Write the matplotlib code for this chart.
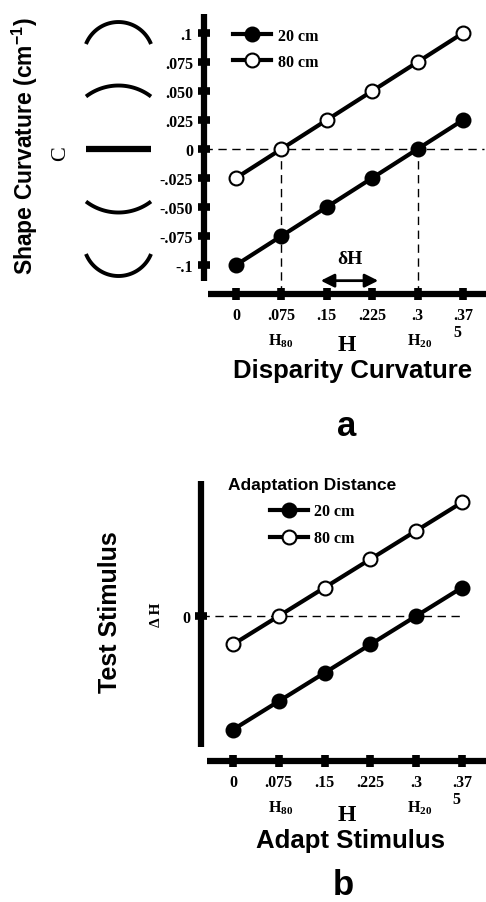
import matplotlib
matplotlib.use('Agg')
import matplotlib.pyplot as plt
import numpy as np
from matplotlib.lines import Line2D

plt.rcParams['mathtext.default'] = 'regular'

# ---------------- data ----------------
H_values = [0, 0.075, 0.15, 0.225, 0.3, 0.375]
x_tick_labels = ['0', '.075', '.15', '.225', '.3', '.37\n5']
c_20cm = [-0.1, -0.075, -0.05, -0.025, 0.0, 0.025]
c_80cm = [-0.025, 0.0, 0.025, 0.05, 0.075, 0.1]
y_ticks_a = [0.1, 0.075, 0.05, 0.025, 0, -0.025, -0.05, -0.075, -0.1]
y_tick_labels_a = ['.1', '.075', '.050', '.025', '0', '-.025', '-.050', '-.075', '-.1']
y_ticks_b = [0]
y_tick_labels_b = ['0']
shape_curvatures = [0.1, 0.05, 0.0, -0.05, -0.1]
H80 = 0.075
H20 = 0.3
dH_span = [0.14, 0.235]
series_labels = ['20 cm', '80 cm']

# ---------------- figure ----------------
W, HP = 486, 903
fig = plt.figure(figsize=(W / 100, HP / 100), dpi=100)

SERIF = 'Liberation Serif'
SANS = 'Liberation Sans'


def px_axes(l, t, r, b):
    return fig.add_axes([l / W, 1 - b / HP, (r - l) / W, (b - t) / HP])


def ftext(x, y, s, **kw):
    kw.setdefault('ha', 'center')
    kw.setdefault('va', 'center')
    return fig.text(x / W, 1 - y / HP, s, **kw)


def style_axes(ax, xlim, ylim, lbounds, bbounds, yticks, yticklabels):
    ax.set_xlim(*xlim)
    ax.set_ylim(*ylim)
    ax.patch.set_alpha(0)
    for s in ['top', 'right']:
        ax.spines[s].set_visible(False)
    for s in ['left', 'bottom']:
        ax.spines[s].set_linewidth(4.5)
        ax.spines[s].set_capstyle('butt')
    ax.spines['left'].set_bounds(*lbounds)
    ax.spines['bottom'].set_bounds(*bbounds)
    ax.set_xticks(H_values)
    ax.set_xticklabels(x_tick_labels, fontfamily=SERIF, fontweight='bold', fontsize=11.5)
    for lbl in ax.get_xticklabels():
        lbl.set_multialignment('left')
        lbl.set_linespacing(1.1)
    ax.set_yticks(yticks)
    ax.set_yticklabels(yticklabels, fontfamily=SERIF, fontweight='bold', fontsize=11.5)
    ax.tick_params(direction='inout', length=9, width=5.5, pad=3.5, color='black')
    ax.tick_params(axis='x', pad=5)


def draw_series(ax, lw=3.0):
    ax.plot(H_values, c_20cm, '-o', color='black', lw=lw, ms=10, mfc='black',
            mec='black', mew=1.5, label=series_labels[0], zorder=5)
    ax.plot(H_values, c_80cm, '-o', color='black', lw=lw, ms=10, mfc='white',
            mec='black', mew=1.5, label=series_labels[1], zorder=5)


# ---------------- panel a ----------------
axa = px_axes(204, 15, 486, 295)
style_axes(axa, (-0.0529, 0.413), (-0.125, 0.1164), (-0.1138, 0.1164),
           (-0.0463, 0.413), y_ticks_a, y_tick_labels_a)
axa.hlines(0, axa.get_xlim()[0], 0.41, colors='black', lw=1, linestyles=(0, (6, 4)), zorder=2)
axa.vlines([H80, H20], axa.get_ylim()[0], 0, colors='black', lw=1,
           linestyles=(0, (6, 4)), zorder=2)
draw_series(axa)
axa.annotate('', xy=(dH_span[1], -0.1135), xytext=(dH_span[0], -0.1135),
             arrowprops=dict(arrowstyle='<|-|>', lw=2, color='black',
                             mutation_scale=20, shrinkA=0, shrinkB=0))
axa.text(np.mean(dH_span), -0.0945, 'δH', ha='center', va='center',
         fontfamily=SERIF, fontweight='bold', fontsize=14)
leg = axa.legend(loc='upper left', bbox_to_anchor=(233 / W, 1 - 29 / HP),
                 bbox_transform=fig.transFigure, frameon=False, borderpad=0,
                 borderaxespad=0, handlelength=2.4, handletextpad=0.4,
                 labelspacing=0.6, prop=dict(family=SERIF, weight='bold', size=11.5))

# shape glyphs on the left
fig.canvas.draw()
for c in shape_curvatures:
    yd = axa.transData.transform((0, c))[1]
    xc, hw = 118.5, 32.5
    if c == 0:
        fig.add_artist(Line2D([xc - hw, xc + hw], [yd, yd], transform=None,
                              color='black', lw=4.5, solid_capstyle='butt'))
        continue
    s = 220 * abs(c)
    sign = 1 if c > 0 else -1
    r = (hw ** 2 + s ** 2) / (2 * s)
    phi = np.arcsin(hw / r)
    t = np.linspace(-phi, phi, 60)
    xs = xc + r * np.sin(t)
    ys = yd - sign * s / 2 + sign * (r * np.cos(t) - r * np.cos(phi))
    fig.add_artist(Line2D(xs, ys, transform=None, color='black', lw=2.8,
                          solid_capstyle='butt'))

ftext(25, 146, 'Shape Curvature (cm$^{-1}$)', rotation=90, fontfamily=SANS,
      fontweight='bold', fontsize=16.5)
ftext(61, 154, 'C', rotation=90, fontfamily=SERIF, fontsize=16)
ftext(281, 341, 'H$_{80}$', fontfamily=SERIF, fontweight='bold', fontsize=11.5)
ftext(420, 341, 'H$_{20}$', fontfamily=SERIF, fontweight='bold', fontsize=11.5)
ftext(347, 346, 'H', fontfamily=SERIF, fontweight='bold', fontsize=17)
ftext(353, 371, 'Disparity Curvature', fontfamily=SANS, fontweight='bold', fontsize=18.5)
ftext(347, 427, 'a', fontfamily=SANS, fontweight='bold', fontsize=25)

# ---------------- panel b ----------------
axb = px_axes(201, 482, 486, 762)
style_axes(axb, (-0.0524, 0.4143), (-0.1276, 0.1188), (-0.1153, 0.1188),
           (-0.0426, 0.4143), y_ticks_b, y_tick_labels_b)
axb.hlines(0, axb.get_xlim()[0], 0.378, colors='black', lw=1, linestyles=(0, (6, 4)), zorder=2)
draw_series(axb)
legb = axb.legend(loc='upper left', bbox_to_anchor=(228 / W, 1 - 478 / HP),
                  bbox_transform=fig.transFigure, frameon=False, borderpad=0,
                  borderaxespad=0, handlelength=2.4, handletextpad=0.35,
                  labelspacing=0.7, title='Adaptation Distance',
                  title_fontproperties=dict(family=SANS, weight='bold', size=12.5),
                  prop=dict(family=SERIF, weight='bold', size=11.5))

ftext(110, 612, 'Test Stimulus', rotation=90, fontfamily=SANS, fontweight='bold', fontsize=18)
ftext(156, 615, 'Δ H', rotation=90, fontfamily=SERIF, fontweight='bold', fontsize=11)
ftext(281, 808, 'H$_{80}$', fontfamily=SERIF, fontweight='bold', fontsize=11.5)
ftext(420, 808, 'H$_{20}$', fontfamily=SERIF, fontweight='bold', fontsize=11.5)
ftext(347, 816, 'H', fontfamily=SERIF, fontweight='bold', fontsize=17)
ftext(350, 841, 'Adapt Stimulus', fontfamily=SANS, fontweight='bold', fontsize=18.5)
ftext(343, 886, 'b', fontfamily=SANS, fontweight='bold', fontsize=25)

fig.savefig('out.png', dpi=100)
